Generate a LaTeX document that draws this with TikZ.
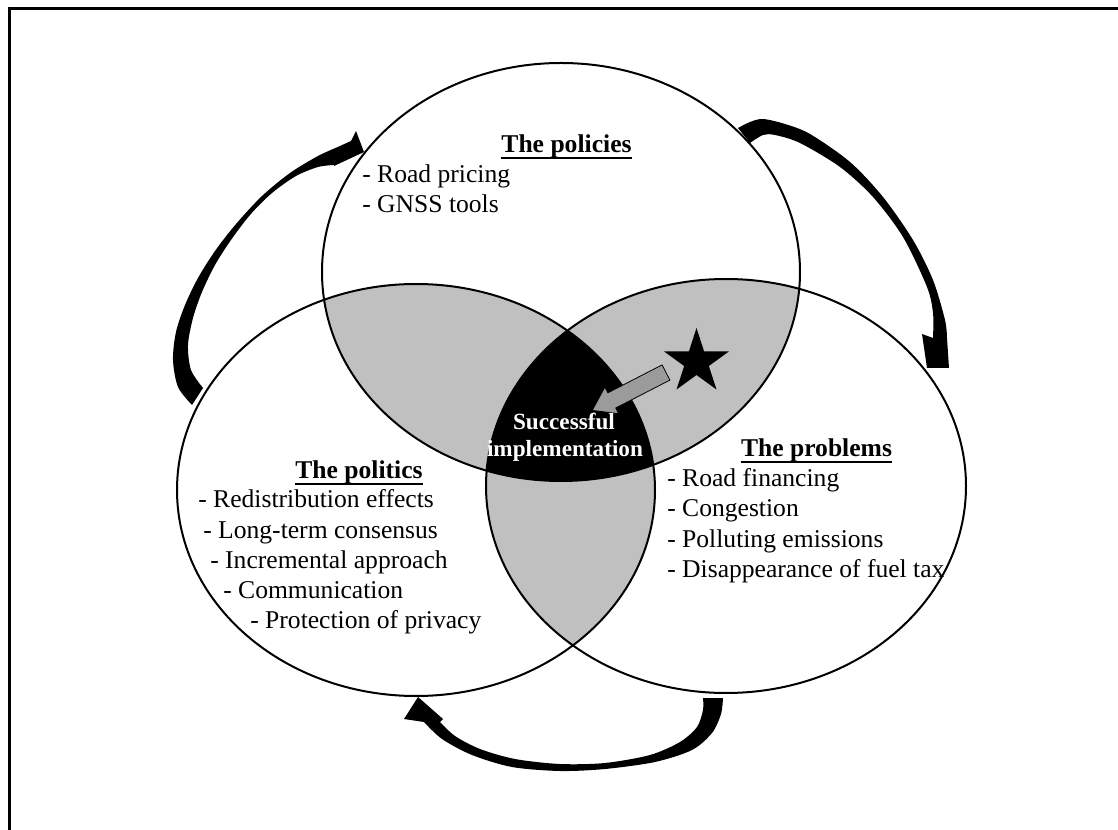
\documentclass[tikz,border=0pt]{standalone}
\usepackage{fontspec}
\setmainfont{Liberation Serif}
\usetikzlibrary{shapes.geometric}
\definecolor{lapgray}{RGB}{192,192,192}
\definecolor{arrgray}{RGB}{155,155,155}
\begin{document}
\begin{tikzpicture}[x=0.75pt,y=-0.75pt,
  txt/.style={anchor=base west, inner sep=0pt, font=\fontsize{19.2}{22.5}\selectfont},
  headtxt/.style={anchor=base, inner sep=0pt, font=\fontsize{19.2}{22.5}\selectfont\bfseries},
  whitetxt/.style={anchor=base, inner sep=0pt, text=white, font=\fontsize{17.4}{20}\selectfont\bfseries},
  uline/.style={line width=1.9pt},
  circ/.style={line width=1.5pt},
  bigarrow/.style={fill=black}]
\useasboundingbox (0,0) rectangle (1118,830);
\fill[white] (0,0) rectangle (1118,830);
% frame
\draw[line width=1.9pt] (9.5,840) -- (9.5,8.5) -- (1130,8.5);
% overlaps
\begin{scope}
  \clip (561,272) ellipse [x radius=239, y radius=209];
  \fill[lapgray] (416,490) ellipse [x radius=239, y radius=206];
  \fill[lapgray] (726,486) ellipse [x radius=240, y radius=207];
\end{scope}
\begin{scope}
  \clip (416,490) ellipse [x radius=239, y radius=206];
  \fill[lapgray] (726,486) ellipse [x radius=240, y radius=207];
\end{scope}
\begin{scope}
  \clip (561,272) ellipse [x radius=239, y radius=209];
  \clip (416,490) ellipse [x radius=239, y radius=206];
  \fill[black] (726,486) ellipse [x radius=240, y radius=207];
\end{scope}
% outlines
\draw[circ] (561,272) ellipse [x radius=239, y radius=209];
\draw[circ] (416,490) ellipse [x radius=239, y radius=206];
\draw[circ] (726,486) ellipse [x radius=240, y radius=207];
% curved arrows
\fill[bigarrow] plot[smooth] coordinates {(192,405) (178,387) (173,360) (176,332) (185,305) (198,278) (215,251) (236,224) (262,196) (290,173) (318,156) (340,146) (351,141)}
  -- (356,131) -- (364,152) -- (334,166)
  -- plot[smooth] coordinates {(334,165) (318,167) (296,176) (272,193) (250,215) (231,240) (215,265) (202,292) (193,318) (188,345) (191,370) (203,388)} -- cycle;
\fill[bigarrow] plot[smooth] coordinates {(738,128) (750,122) (763,119) (785,124) (810,134) (850,162) (883,197) (913,240) (933,280) (945,320) (947,338)}
  -- (949,368) -- (927,368) -- (922,334)
  -- plot[smooth] coordinates {(933,338) (933,313) (927,287) (903,237) (873,197) (840,167) (800,143) (775,135) (763,135) (750,143)} -- cycle;
\fill[bigarrow] plot[smooth] coordinates {(723,698) (721,714) (712,733) (692,750) (655,762) (605,769) (560,771) (512,767) (472,755) (442,739) (424,722)}
  -- (404,719) -- (418,697) -- (443,719)
  -- plot[smooth] coordinates {(440,722) (455,736) (480,749) (515,759) (560,764) (605,763) (650,755) (680,742) (697,727) (703,710) (703,698)} -- cycle;
% star and grey arrow
\node[star, star points=5, star point ratio=2.618, fill=black, inner sep=0pt, minimum size=51pt] (star) at (696.5,362) {};
\filldraw[fill=arrgray, draw=black, line width=0.6pt] (662.1,364.9) -- (669.9,380.1) -- (615.7,408.0) -- (618.7,413.7) -- (592.2,410.4) -- (604.9,387.1) -- (607.9,392.8) -- cycle;
% centre text
\node[whitetxt] (succ) at (564,430) {Successful};
\node[whitetxt] (impl) at (565,457) {implementation};
% policies
\node[headtxt] (hpol) at (566.5,153) {The policies};
\draw[uline] ([yshift=-3.9pt]hpol.base west) -- ([yshift=-3.9pt]hpol.base east);
\node[txt] (pol1) at (362,183) {- Road pricing};
\node[txt] (pol2) at (362,213) {- GNSS tools};
% politics
\node[headtxt] (hpolit) at (359,479) {The politics};
\draw[uline] ([yshift=-3.9pt]hpolit.base west) -- ([yshift=-3.9pt]hpolit.base east);
\node[txt] (pt1) at (198,508) {- Redistribution effects};
\node[txt] (pt2) at (203,538) {- Long-term consensus};
\node[txt] (pt3) at (210,568) {- Incremental approach};
\node[txt] (pt4) at (223,598) {- Communication};
\node[txt] (pt5) at (250,628) {- Protection of privacy};
% problems
\node[headtxt] (hprob) at (816.5,457) {The problems};
\draw[uline] ([yshift=-3.9pt]hprob.base west) -- ([yshift=-3.9pt]hprob.base east);
\node[txt] (pr1) at (667,487) {- Road financing};
\node[txt] (pr2) at (667,517) {- Congestion};
\node[txt] (pr3) at (667,547) {- Polluting emissions};
\node[txt] (pr4) at (667,577) {- Disappearance of fuel tax};
\end{tikzpicture}
\end{document}
